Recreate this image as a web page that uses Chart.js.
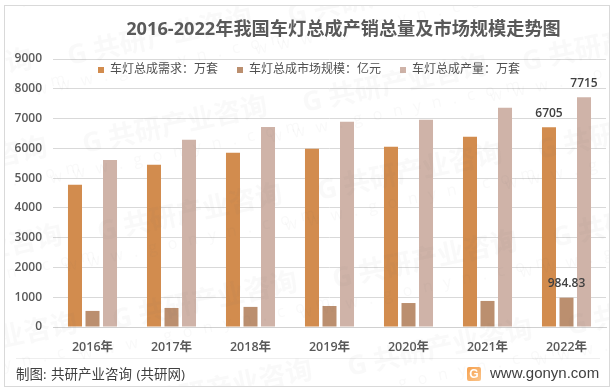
<!DOCTYPE html>
<html>
<head>
<meta charset="utf-8">
<title>2016-2022年我国车灯总成产销总量及市场规模走势图</title>
<script src="https://cdn.jsdelivr.net/npm/chart.js@4/dist/chart.umd.min.js"></script>
<style>
    html, body { margin: 0; padding: 0; background: #fff; }
    canvas { display: block; }
</style>
</head>
<body>
<canvas id="chart" width="616" height="392"></canvas>
<script>
let years = ["2016年", "2017年", "2018年", "2019年", "2020年", "2021年", "2022年"];
let demandData = [4780, 5445, 5850, 5985, 6050, 6385, 6705];
let marketData = [540, 640, 675, 705, 805, 875, 984.83];
let outputData = [5610, 6285, 6720, 6890, 6960, 7360, 7715];

let demandName = "车灯总成需求：万套";
let marketName = "车灯总成市场规模：亿元";
let outputName = "车灯总成产量：万套";

let titleText = "2016-2022年我国车灯总成产销总量及市场规模走势图";
let sourceText = "制图: 共研产业咨询 (共研网)";
let siteText = "www.gonyn.com";

let textFont = "'Open Sans', 'Noto Sans CJK SC', sans-serif";
let textColour = "#595959";

// frame, title, footer go under the bars
let backdrop = {
    id: "backdrop",
    beforeDraw(chart) {
        let ctx = chart.ctx;
        ctx.save();
        ctx.fillStyle = "#fff";
        ctx.fillRect(0, 0, 616, 392);
        ctx.strokeStyle = "#d9d9d9";
        ctx.lineWidth = 1;
        ctx.strokeRect(4.5, 5.5, 605, 381);
        ctx.strokeStyle = "#eeeeee";
        ctx.beginPath();
        ctx.moveTo(16, 358.5);
        ctx.lineTo(600, 358.5);
        ctx.stroke();

        ctx.textBaseline = "middle";
        ctx.fillStyle = textColour;
        ctx.font = "bold 18.2px " + textFont;
        ctx.textAlign = "center";
        ctx.fillText(titleText, 343.5, 30);

        ctx.textAlign = "left";
        ctx.fillStyle = "#404040";
        ctx.font = "13.5px " + textFont;
        ctx.wordSpacing = "1px";
        ctx.fillText(sourceText, 16, 375);
        ctx.wordSpacing = "0px";
        ctx.font = "15px 'Liberation Sans', sans-serif";
        ctx.fillText(siteText, 490, 374);

        // little logo next to the site name
        let grad = ctx.createLinearGradient(467, 367, 481, 381);
        grad.addColorStop(0, "#f6a04d");
        grad.addColorStop(1, "#fbc58c");
        ctx.fillStyle = grad;
        ctx.beginPath();
        ctx.roundRect(467, 367, 14, 14, 2);
        ctx.fill();
        ctx.fillStyle = "#fff";
        ctx.font = "bold 12px 'Liberation Sans', sans-serif";
        ctx.textAlign = "center";
        ctx.fillText("G", 474, 374.5);
        ctx.restore();
    }
};

// only the 2022 bars carry a number
let lastBarLabels = {
    id: "lastBarLabels",
    afterDatasetsDraw(chart) {
        let ctx = chart.ctx;
        ctx.save();
        ctx.fillStyle = "#404040";
        ctx.font = "600 12px " + textFont;
        ctx.textAlign = "center";
        ctx.textBaseline = "middle";
        chart.data.datasets.forEach((dataset, i) => {
            let last = dataset.data.length - 1;
            let bar = chart.getDatasetMeta(i).data[last];
            ctx.fillText(String(dataset.data[last]), bar.x, bar.y - 14);
        });
        ctx.restore();
    }
};

// faint repeated watermark over everything
let watermark = {
    id: "watermark",
    afterDraw(chart) {
        let ctx = chart.ctx;
        ctx.save();
        ctx.beginPath();
        ctx.rect(5, 6, 604, 380);
        ctx.clip();
        for (let col = -1; col < 3; col++) {
            for (let row = -1; row < 5; row++) {
                let x = 160 + col * 235 + row * 15;
                let y = 38 + col * 47 + row * 88;
                ctx.save();
                ctx.translate(x, y);
                ctx.rotate(-12 * Math.PI / 180);
                ctx.textAlign = "center";
                ctx.textBaseline = "middle";
                ctx.fillStyle = "rgba(120,120,120,0.045)";
                ctx.font = "bold 27px " + textFont;
                ctx.fillText("G 共研产业咨询", 0, 0);
                ctx.font = "16px " + textFont;
                ctx.letterSpacing = "11px";
                ctx.fillText("www.gonyn.com", 0, 26);
                ctx.restore();
            }
        }
        ctx.restore();
    }
};

// legend sits inside the plot, on the band between 8000 and 9000
let legendShift = {
    id: "legendShift",
    afterLayout(chart) {
        chart.legend.top += 27;
        chart.legend.bottom += 27;
        chart.legend.left += 4;
        chart.legend.right += 4;
    }
};

new Chart(document.getElementById("chart"), {
    type: "bar",
    data: {
        labels: years,
        datasets: [
            { label: demandName, data: demandData, backgroundColor: "#d28c4e" },
            { label: marketName, data: marketData, backgroundColor: "#bb8f6f" },
            { label: outputName, data: outputData, backgroundColor: "#cfb3a8" }
        ]
    },
    options: {
        responsive: false,
        animation: false,
        categoryPercentage: 0.665,
        barPercentage: 0.8,
        layout: { padding: { top: 18, left: 4, right: 10, bottom: 0 } },
        plugins: {
            title: { display: false },
            tooltip: { enabled: false },
            legend: {
                position: "top",
                labels: {
                    boxWidth: 6,
                    boxHeight: 6,
                    padding: 19,
                    color: "#505050",
                    font: { family: textFont, size: 12 }
                }
            }
        },
        scales: {
            x: {
                grid: { display: false, drawTicks: false },
                border: { color: "#d0d0d0" },
                ticks: { color: textColour, padding: 13, font: { family: textFont, size: 12.5, weight: "600" } },
                afterFit(scale) { scale.height = 65; }
            },
            y: {
                min: 0,
                max: 9000,
                grid: { color: "#d9d9d9", drawTicks: false },
                border: { display: false },
                ticks: {
                    stepSize: 1000,
                    color: textColour,
                    padding: 11,
                    font: { family: textFont, size: 12, weight: "600" },
                    callback: value => String(value)
                },
                afterFit(scale) { scale.width = 49; }
            }
        }
    },
    plugins: [backdrop, lastBarLabels, watermark, legendShift]
});
</script>
</body>
</html>
